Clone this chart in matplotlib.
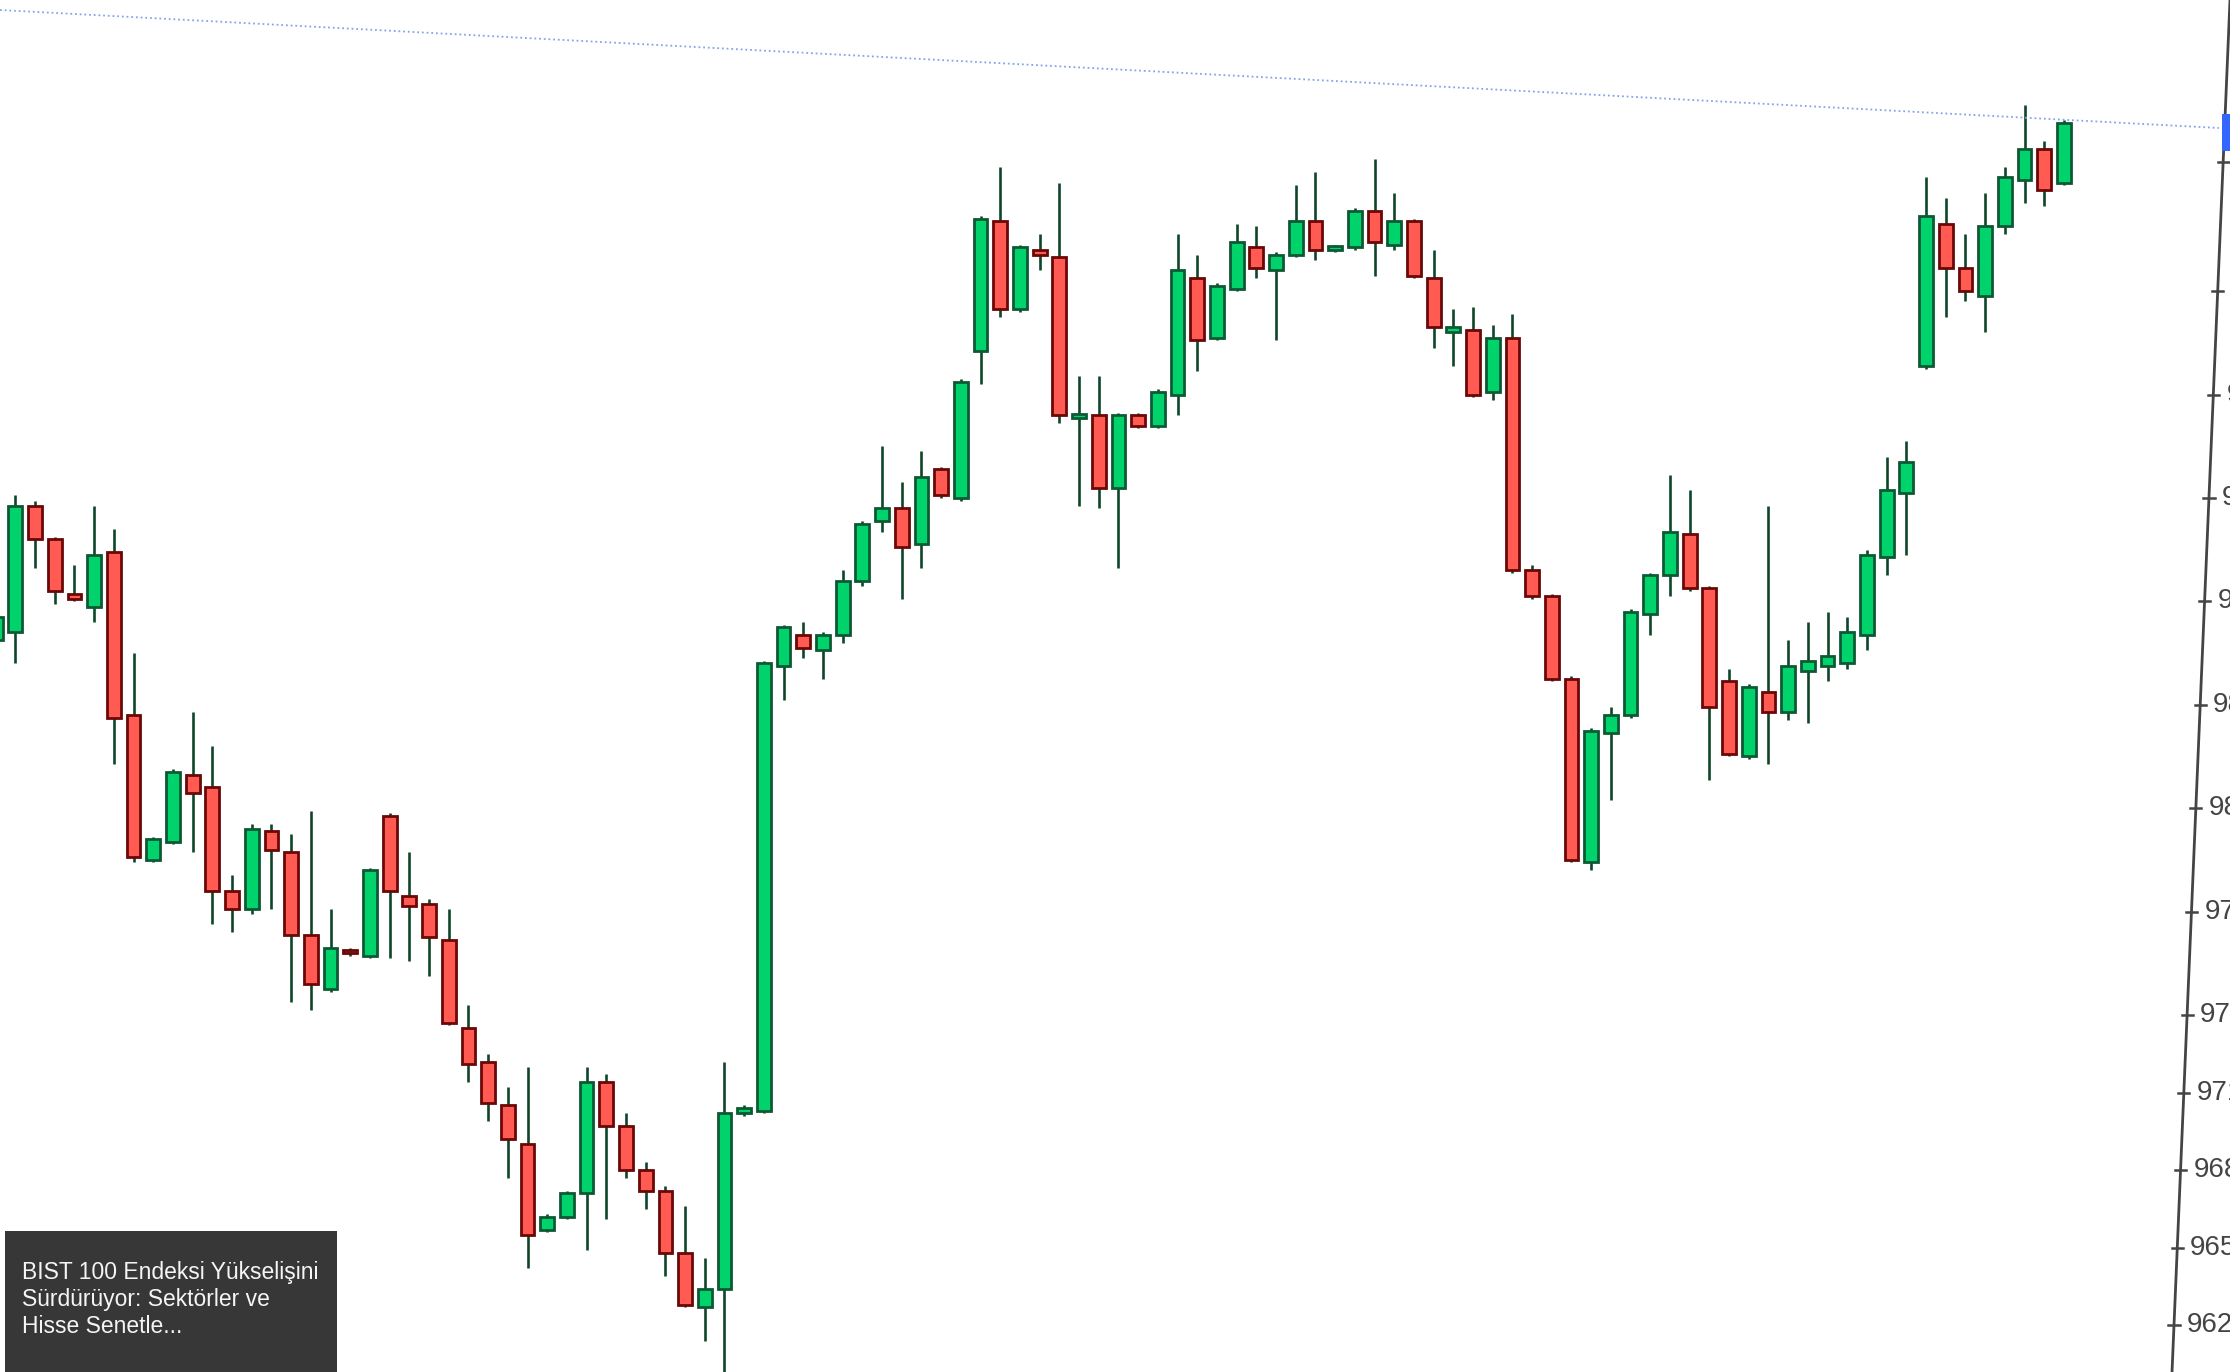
import matplotlib
matplotlib.use("Agg")
import matplotlib.pyplot as plt
import numpy as np
from matplotlib.patches import Rectangle

# ---- data ----
opens = [9885, 9888, 9937, 9924, 9903, 9898, 9919, 9856, 9800, 9807,
         9833, 9828, 9788, 9781, 9811, 9803, 9771, 9750, 9765, 9763,
         9817, 9786, 9783, 9769, 9735, 9722, 9705, 9690, 9657, 9662,
         9671, 9714, 9697, 9680, 9672, 9648, 9627, 9634, 9702, 9703,
         9875, 9887, 9881, 9887, 9908, 9931, 9936, 9922, 9951, 9940,
         9997, 10047, 10013, 10036, 10033, 9971, 9972, 9944, 9972, 9968,
         9980, 10025, 10002, 10021, 10037, 10028, 10034, 10047, 10036, 10037,
         10051, 10038, 10047, 10025, 10004, 10005, 9981, 10002, 9912, 9902,
         9870, 9799, 9849, 9856, 9895, 9910, 9926, 9905, 9869, 9840,
         9865, 9857, 9873, 9875, 9876, 9887, 9917, 9942, 9991, 10046,
         10029, 10018, 10045, 10063, 10075, 10062]
highs = [9931, 9941, 9939, 9925, 9914, 9937, 9928, 9880, 9809, 9835,
         9857, 9844, 9794, 9814, 9814, 9810, 9819, 9781, 9766, 9797,
         9818, 9803, 9785, 9781, 9744, 9725, 9712, 9720, 9663, 9672,
         9720, 9717, 9702, 9683, 9674, 9666, 9646, 9722, 9705, 9877,
         9891, 9892, 9888, 9912, 9931, 9960, 9946, 9958, 9952, 9986,
         10049, 10068, 10038, 10042, 10062, 9987, 9987, 9973, 9973, 9982,
         10042, 10034, 10023, 10046, 10045, 10035, 10061, 10066, 10038, 10052,
         10071, 10058, 10048, 10036, 10013, 10014, 10007, 10011, 9914, 9903,
         9871, 9851, 9859, 9897, 9911, 9949, 9943, 9906, 9874, 9868,
         9937, 9885, 9892, 9896, 9894, 9920, 9956, 9962, 10064, 10056,
         10042, 10058, 10068, 10092, 10078, 10086]
lows = [9884, 9876, 9913, 9899, 9900, 9892, 9837, 9799, 9799, 9806,
        9803, 9775, 9772, 9779, 9781, 9745, 9742, 9749, 9763, 9762,
        9762, 9761, 9755, 9736, 9714, 9699, 9677, 9642, 9656, 9661,
        9649, 9661, 9677, 9665, 9639, 9627, 9614, 9598, 9701, 9702,
        9862, 9878, 9870, 9884, 9906, 9927, 9901, 9913, 9940, 9939,
        9984, 10010, 10012, 10028, 9969, 9937, 9936, 9913, 9967, 9967,
        9972, 9989, 10001, 10020, 10025, 10001, 10033, 10032, 10035, 10036,
        10026, 10036, 10025, 9998, 9991, 9979, 9978, 9911, 9901, 9869,
        9799, 9796, 9823, 9855, 9887, 9902, 9904, 9831, 9840, 9839,
        9837, 9854, 9853, 9869, 9874, 9881, 9910, 9918, 9990, 10010,
        10016, 10004, 10042, 10054, 10053, 10061]
closes = [9894, 9937, 9924, 9904, 9901, 9918, 9855, 9801, 9808, 9834,
          9826, 9788, 9781, 9812, 9804, 9771, 9752, 9766, 9764, 9796,
          9788, 9782, 9770, 9737, 9721, 9706, 9692, 9655, 9662, 9671,
          9714, 9697, 9680, 9672, 9648, 9628, 9634, 9702, 9704, 9876,
          9890, 9882, 9887, 9908, 9930, 9936, 9921, 9948, 9941, 9985,
          10048, 10013, 10037, 10034, 9972, 9972, 9944, 9972, 9968, 9981,
          10028, 10001, 10022, 10039, 10029, 10034, 10047, 10036, 10037, 10051,
          10039, 10047, 10026, 10006, 10006, 9980, 10002, 9912, 9902, 9870,
          9800, 9850, 9856, 9896, 9910, 9927, 9905, 9859, 9841, 9867,
          9857, 9875, 9877, 9879, 9888, 9918, 9943, 9954, 10049, 10029,
          10020, 10045, 10064, 10075, 10059, 10085]

ytick_values = [9620, 9650, 9680, 9710, 9740, 9780, 9820, 9860, 9900, 9940, 9980, 10020, 10070]
ytick_labels = [str(v) for v in ytick_values]
news_lines = ["BIST 100 Endeksi Yükselişini", "Sürdürüyor: Sektörler ve", "Hisse Senetle..."]

# ---- styles ----
GREEN = "#00d36b"
GREEN_EDGE = "#0b5a34"
RED = "#ff5b52"
RED_EDGE = "#6a0808"
WICK = "#0f4529"

fig = plt.figure(figsize=(22.3, 13.72), dpi=100)
fig.patch.set_facecolor("white")
ax = fig.add_axes([0, 0, 1, 1])
ax.set_facecolor("white")
YMIN, YMAX = 9601.9, 10132.6
ax.set_xlim(0.22, 113.43)
ax.set_ylim(YMIN, YMAX)
ax.axis("off")

o = np.array(opens, dtype=float)
h = np.array(highs, dtype=float)
l = np.array(lows, dtype=float)
c = np.array(closes, dtype=float)
x = np.arange(len(o))
up = c >= o

ax.vlines(x, l, h, color=WICK, linewidth=1.9, zorder=1)
bottom = np.minimum(o, c)
height = np.maximum(np.abs(c - o), 1.3)
ax.bar(x[up], height[up], bottom=bottom[up], width=0.7, color=GREEN,
       edgecolor=GREEN_EDGE, linewidth=2.0, zorder=2)
ax.bar(x[~up], height[~up], bottom=bottom[~up], width=0.7, color=RED,
       edgecolor=RED_EDGE, linewidth=2.0, zorder=2)

# ---- tilted price axis on the right (photo perspective); labels run off the edge as in the photo ----
x_bot, x_top = 0.974, 1.0
ax.plot([x_bot, x_top], [0, 1], transform=ax.transAxes, color="#444444",
        linewidth=2.0, clip_on=False, zorder=5)
for v, lab in zip(ytick_values, ytick_labels):
    yf = (v - YMIN) / (YMAX - YMIN)
    xf = x_bot + (x_top - x_bot) * yf
    ax.plot([xf - 0.0025, xf + 0.0025], [yf, yf], transform=ax.transAxes,
            color="#444444", linewidth=1.8, clip_on=False, zorder=5)
    ax.text(xf + 0.0058, yf, lab, transform=ax.transAxes, ha="left", va="center",
            fontsize=20, color="#444444", family="Liberation Sans", clip_on=False)

# ---- current price dotted line and marker ----
ax.plot([0, 0.995], [0.9927, 0.9067], transform=ax.transAxes, color="#86a3ea",
        linewidth=1.3, linestyle=(0, (1, 1.6)), zorder=3)
ax.add_patch(Rectangle((0.9962, 0.890), 0.01, 0.027, transform=ax.transAxes,
                       facecolor="#3366ff", edgecolor="none", zorder=6, clip_on=False))

# ---- news box bottom-left ----
ax.add_patch(Rectangle((0.0022, -0.01), 0.1489, 0.1128, transform=ax.transAxes,
                       facecolor="#373737", edgecolor="none", zorder=7, clip_on=False))
for yy, line in zip([0.0722, 0.0525, 0.0330], news_lines):
    ax.text(0.0097, yy, line, transform=ax.transAxes, ha="left", va="center",
            fontsize=16.5, color="#f5f5f5", family="Liberation Sans", zorder=8)

fig.savefig("out.png", dpi=100, facecolor="white")
